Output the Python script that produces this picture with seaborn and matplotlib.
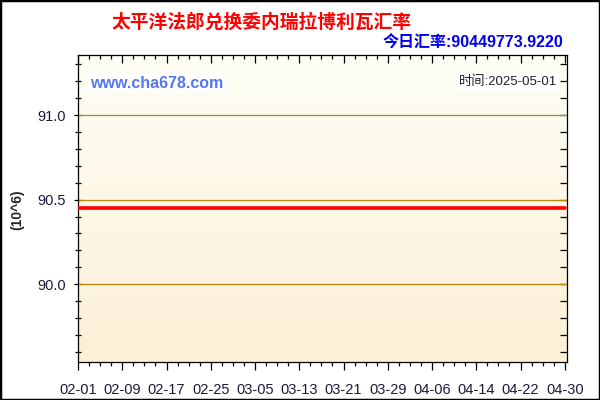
import numpy as np
import pandas as pd
import matplotlib
matplotlib.use("Agg")
import matplotlib.pyplot as plt
import matplotlib.dates as mdates
from matplotlib.ticker import MultipleLocator
import seaborn as sns

# data
dates = ["2025-02-01", "2025-04-30"]
rates = [90.449773922, 90.449773922]   # 单位 10^6
title = "太平洋法郎兑换委内瑞拉博利瓦汇率"
today_rate = "今日汇率:90449773.9220"
stamp = "时间:2025-05-01"
site = "www.cha678.com"
y_ticks = [90.0, 90.5, 91.0]

df = pd.DataFrame({"date": pd.to_datetime(dates), "rate": rates})

sns.set_style("ticks")
plt.rcParams["font.family"] = ["Liberation Sans", "Noto Sans CJK SC", "DejaVu Sans"]
cjk = ["Noto Sans CJK SC", "DejaVu Sans"]
mix = ["Liberation Sans", "Noto Sans CJK SC", "DejaVu Sans"]

fig = plt.figure(figsize=(6, 4), dpi=100)
fig.patch.set_facecolor("white")
ax = fig.add_axes([78 / 600, 1 - 362 / 400, (567 - 78) / 600, (362 - 55) / 400])

x0 = mdates.date2num(pd.Timestamp("2025-02-01"))
x1 = mdates.date2num(pd.Timestamp("2025-04-30"))
ymin, ymax = 89.54, 91.355

# 背景渐变（上浅下深）
grad = np.linspace(0, 1, 256).reshape(-1, 1)
cmap = matplotlib.colors.LinearSegmentedColormap.from_list("bg", ["#fefef6", "#fcf0d6"])
ax.imshow(grad, extent=[x0, x1 + 0.4, ymin, ymax], origin="upper", aspect="auto",
          cmap=cmap, zorder=0)

for y in y_ticks:
    ax.axhline(y, color="#b8860b", lw=0.9, zorder=1)

sns.lineplot(data=df, x="date", y="rate", ax=ax, color="#ff0000", lw=2.6, zorder=3)

ax.set_xlim(x0, x1 + 0.4)
ax.set_ylim(ymin, ymax)
ax.set_xlabel("")
ax.set_ylabel("(10^6)", fontsize=10, fontweight="bold")
ax.yaxis.set_label_coords(-0.11, 0.495)

ax.set_xticks([x0 + 8 * i for i in range(12)])
ax.xaxis.set_major_formatter(mdates.DateFormatter("%m-%d"))
ax.xaxis.set_minor_locator(MultipleLocator(2))
ax.set_yticks(y_ticks)
ax.yaxis.set_minor_locator(MultipleLocator(0.1))
ax.yaxis.set_major_formatter(matplotlib.ticker.FormatStrFormatter("%.1f"))

ax.tick_params(axis="both", which="both", labelsize=10.5, labelcolor="#1a1a3a", colors="#000000")
ax.tick_params(axis="x", which="major", direction="out", length=6, width=0.9, top=True, pad=9)
ax.tick_params(axis="x", which="minor", direction="out", length=3, width=0.9, top=True)
ax.tick_params(axis="y", which="major", direction="inout", length=6, width=0.9, right=True, pad=6)
ax.tick_params(axis="y", which="minor", direction="inout", length=5, width=0.9, right=True)
for t in ax.xaxis.get_major_ticks() + ax.xaxis.get_minor_ticks():
    t.tick2line.set_marker(matplotlib.lines.TICKDOWN)
for t in ax.yaxis.get_major_ticks() + ax.yaxis.get_minor_ticks():
    t.tick2line.set_marker(matplotlib.lines.TICKLEFT)
for s in ax.spines.values():
    s.set_visible(True)
    s.set_linewidth(0.9)
    s.set_color("black")

fig.text(261 / 600, 1 - 22 / 400, title, ha="center", va="center", color="#ff0000",
         fontsize=13.5, fontweight="bold", family=cjk)
fig.text(563 / 600, 1 - 43 / 400, today_rate, ha="right", va="center", color="#0000ee",
         fontsize=11.5, fontweight="bold", family=mix)
ax.text(90 / 600, 1 - 83 / 400, site, transform=fig.transFigure, ha="left", va="center",
        color="#5577ee", fontsize=11.5, fontweight="bold", zorder=5,
        bbox=dict(facecolor="white", edgecolor="none", pad=1.5))
ax.text(557 / 600, 1 - 82 / 400, stamp, transform=fig.transFigure, ha="right", va="center",
        color="#222222", fontsize=9.5, family=mix, zorder=5,
        bbox=dict(facecolor="white", edgecolor="none", pad=1.5))

# 外框
fig.add_artist(plt.Rectangle((0, 0), 1, 1, transform=fig.transFigure, fill=False,
                             edgecolor="black", lw=2.5))

fig.savefig("out.png", dpi=100)
